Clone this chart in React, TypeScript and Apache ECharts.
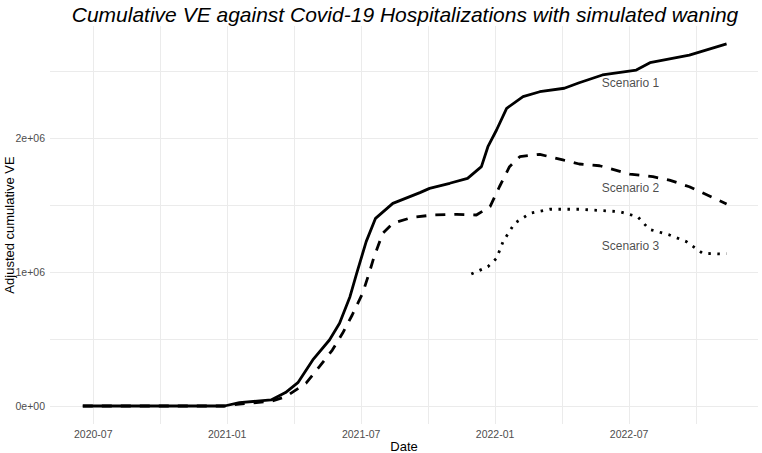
import React, { useEffect, useRef } from "react";
import * as echarts from "echarts";

// ---- Data ----
const s1Dates = [
  "2020-06-17", "2020-12-28", "2021-01-18", "2021-02-28", "2021-03-20", "2021-04-06",
  "2021-04-26", "2021-05-19", "2021-06-02", "2021-06-16", "2021-06-25", "2021-07-08",
  "2021-07-21", "2021-08-14", "2021-09-20", "2021-10-03", "2021-10-31", "2021-11-24",
  "2021-12-13", "2021-12-22", "2022-01-03", "2022-01-17", "2022-02-08", "2022-03-01",
  "2022-04-04", "2022-04-24", "2022-05-26", "2022-07-11", "2022-07-30", "2022-09-22",
  "2022-11-12",
];
const s1Values = [
  0, 0, 25000, 45000, 100000, 174000,
  344000, 493000, 618000, 817000, 991000, 1228000,
  1402000, 1514000, 1594000, 1626000, 1664000, 1701000,
  1788000, 1937000, 2062000, 2224000, 2311000, 2348000,
  2374000, 2415000, 2473000, 2510000, 2565000, 2622000,
  2705000,
];

const s2Dates = [
  "2020-06-17", "2020-12-28", "2021-01-18", "2021-02-28", "2021-03-20", "2021-04-17",
  "2021-05-05", "2021-05-23", "2021-06-06", "2021-06-19", "2021-07-03", "2021-07-12",
  "2021-07-19", "2021-07-31", "2021-08-14", "2021-09-10", "2021-10-08", "2021-11-09",
  "2021-12-06", "2021-12-25", "2022-01-07", "2022-01-21", "2022-02-04", "2022-03-01",
  "2022-04-02", "2022-04-24", "2022-05-22", "2022-07-02", "2022-08-03", "2022-08-26",
  "2022-09-22", "2022-11-12",
];
const s2Values = [
  0, 0, 15000, 35000, 69000, 170000,
  294000, 418000, 543000, 680000, 842000, 991000,
  1115000, 1290000, 1365000, 1410000, 1427000, 1432000,
  1427000, 1489000, 1638000, 1788000, 1863000, 1880000,
  1838000, 1808000, 1795000, 1733000, 1713000, 1688000,
  1638000, 1509000,
];

const s3Dates = [
  "2021-11-29", "2021-12-22", "2022-01-03", "2022-01-12", "2022-01-28", "2022-02-17",
  "2022-03-15", "2022-04-24", "2022-06-18", "2022-07-13", "2022-07-29", "2022-08-26",
  "2022-09-18", "2022-10-10", "2022-11-03", "2022-11-12",
];
const s3Values = [
  986000, 1041000, 1103000, 1228000, 1365000, 1440000,
  1470000, 1470000, 1452000, 1414000, 1320000, 1278000,
  1228000, 1141000, 1136000, 1138000,
];

const labelNames = ["Scenario 1", "Scenario 2", "Scenario 3"];
const labelDates = ["2022-07-03", "2022-07-03", "2022-07-03"];
const labelValues = [2415000, 1626000, 1195000];

const xRangeDates = ["2020-05-03", "2022-12-25"];
const yRange = [-134500, 2839000];

const titleText = "Cumulative VE against Covid-19 Hospitalizations with simulated waning";
const xTitle = "Date";
const yTitle = "Adjusted cumulative VE";

// month index: 0 = 2020-01-01
function monthIndex(d: string): number {
  const [y, m, day] = d.split("-").map(Number);
  const dim = new Date(Date.UTC(y, m, 0)).getUTCDate();
  return (y - 2020) * 12 + (m - 1) + (day - 1) / dim;
}

function monthLabel(v: number): string {
  const r = Math.round(v);
  if (Math.abs(v - r) > 1e-6 || r % 6 !== 0) return "";
  const y = 2020 + Math.floor(r / 12);
  const m = (r % 12) + 1;
  return `${y}-${m < 10 ? "0" + m : m}`;
}

function sciLabel(v: number): string {
  if (Math.abs(v % 1000000) > 1e-3) return "";
  if (v === 0) return "0e+00";
  return `${Math.round(v / 1000000)}e+06`;
}

const FONT = "'Liberation Sans', Arial, sans-serif";

export default function App() {
  const ref = useRef<HTMLDivElement>(null);
  useEffect(() => {
    if (!ref.current) return;
    const chart = echarts.init(ref.current, null, { renderer: "svg" });
    const toPts = (ds: string[], vs: number[]) => ds.map((d, i) => [monthIndex(d), vs[i]]);
    const gridLine = { show: true, showMinLine: false, showMaxLine: false, lineStyle: { color: "#ebebeb", width: 1 } };
    chart.setOption({
      animation: false,
      backgroundColor: "#ffffff",
      textStyle: { fontFamily: FONT },
      graphic: [
        {
          type: "text",
          x: 405,
          y: 14,
          style: {
            text: titleText,
            fill: "#000",
            font: `italic 21px ${FONT}`,
            textAlign: "center",
            textVerticalAlign: "middle",
          },
        },
      ],
      grid: { left: 50, right: 4, top: 26, bottom: 29, containLabel: false, outerBoundsMode: "none" },
      xAxis: {
        type: "value",
        min: monthIndex(xRangeDates[0]),
        max: monthIndex(xRangeDates[1]),
        splitNumber: 10,
        axisLine: { show: false },
        axisTick: { show: false },
        splitLine: gridLine,
        axisLabel: {
          formatter: (v: number) => monthLabel(v),
          color: "#4d4d4d",
          fontSize: 10.5,
          fontFamily: FONT,
          margin: 4,
          showMinLabel: false,
          showMaxLabel: false,
        },
        name: xTitle,
        nameLocation: "middle",
        nameGap: 16,
        nameMoveOverlap: false,
        nameTextStyle: { color: "#000", fontSize: 13, fontFamily: FONT, verticalAlign: "top" },
      },
      yAxis: {
        type: "value",
        min: yRange[0],
        max: yRange[1],
        splitNumber: 6,
        axisLine: { show: false },
        axisTick: { show: false },
        splitLine: gridLine,
        axisLabel: {
          formatter: (v: number) => sciLabel(v),
          color: "#4d4d4d",
          fontSize: 10.5,
          fontFamily: FONT,
          margin: 5,
          showMinLabel: false,
          showMaxLabel: false,
        },
        name: yTitle,
        nameLocation: "middle",
        nameGap: 34,
        nameRotate: 90,
        nameMoveOverlap: false,
        nameTextStyle: { color: "#000", fontSize: 13, fontFamily: FONT, verticalAlign: "bottom" },
      },
      series: [
        {
          type: "line",
          data: toPts(s1Dates, s1Values),
          showSymbol: false,
          lineStyle: { color: "#000", width: 2.8, type: "solid" },
          z: 3,
        },
        {
          type: "line",
          data: toPts(s2Dates, s2Values),
          showSymbol: false,
          lineStyle: { color: "#000", width: 2.8, type: [10, 9] },
          z: 2,
        },
        {
          type: "line",
          data: toPts(s3Dates, s3Values),
          showSymbol: false,
          lineStyle: { color: "#000", width: 2.8, type: [2.5, 6.5] },
          z: 2,
        },
        {
          type: "scatter",
          symbolSize: 0,
          data: labelNames.map((n, i) => ({ name: n, value: [monthIndex(labelDates[i]), labelValues[i]] })),
          label: {
            show: true,
            position: "inside",
            formatter: "{b}",
            color: "#1a1a1a",
            fontSize: 12,
            fontFamily: FONT,
          },
          silent: true,
          z: 4,
        },
      ],
    });
    return () => chart.dispose();
  }, []);
  return (
    <div
      ref={ref}
      style={{ position: "absolute", left: 0, top: 0, width: 762, height: 453 }}
    />
  );
}
